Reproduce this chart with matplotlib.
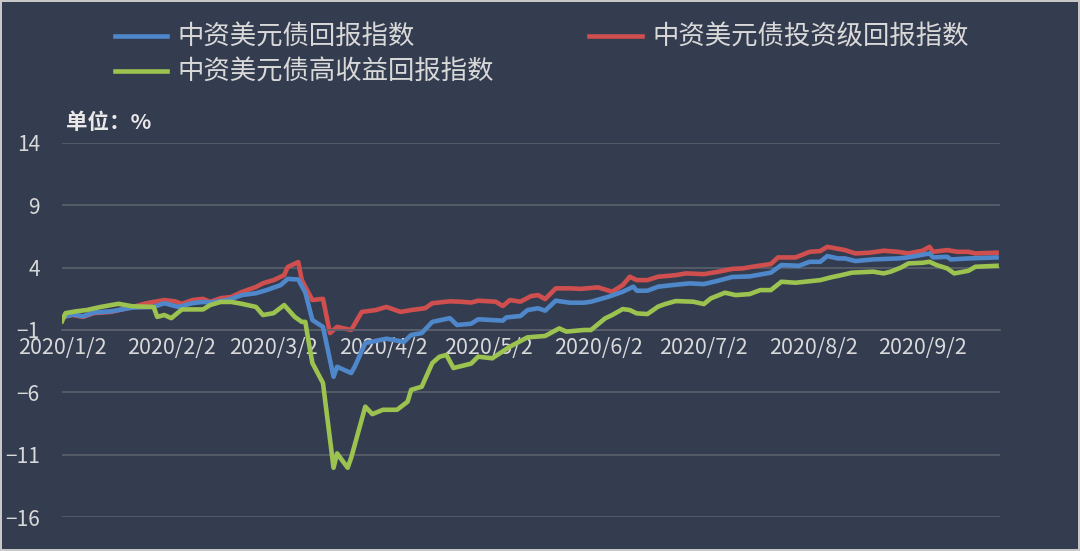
import pandas as pd
import matplotlib
matplotlib.use("Agg")
import matplotlib.pyplot as plt
import matplotlib.dates as mdates

plt.rcParams['font.family'] = ['Noto Sans CJK SC', 'DejaVu Sans']

# 中资美元债回报指数
blue_dates = ['2020-01-02', '2020-01-05', '2020-01-08', '2020-01-11', '2020-01-16', '2020-01-22',
              '2020-01-28', '2020-01-31', '2020-02-04', '2020-02-08', '2020-02-11', '2020-02-13',
              '2020-02-18', '2020-02-22', '2020-02-26', '2020-02-29', '2020-03-04', '2020-03-06',
              '2020-03-09', '2020-03-11', '2020-03-13', '2020-03-16', '2020-03-19', '2020-03-20',
              '2020-03-24', '2020-03-25', '2020-03-28', '2020-04-03', '2020-04-08', '2020-04-10',
              '2020-04-13', '2020-04-16', '2020-04-21', '2020-04-23', '2020-04-27', '2020-04-29',
              '2020-05-06', '2020-05-07', '2020-05-11', '2020-05-13', '2020-05-16', '2020-05-18',
              '2020-05-21', '2020-05-25', '2020-05-29', '2020-05-31', '2020-06-05', '2020-06-09',
              '2020-06-12', '2020-06-13', '2020-06-16', '2020-06-19', '2020-06-23', '2020-06-28',
              '2020-07-02', '2020-07-06', '2020-07-10', '2020-07-15', '2020-07-21', '2020-07-24',
              '2020-07-29', '2020-08-01', '2020-08-04', '2020-08-06', '2020-08-09', '2020-08-11',
              '2020-08-14', '2020-08-19', '2020-08-26', '2020-08-28', '2020-08-31', '2020-09-04',
              '2020-09-05', '2020-09-09', '2020-09-10', '2020-09-15', '2020-09-23']
blue_vals = [0.0, 0.25, 0.1, 0.4, 0.5, 0.8,
             0.85, 1.15, 0.85, 1.15, 1.25, 1.2,
             1.4, 1.8, 1.95, 2.2, 2.6, 3.1,
             3.05, 2.0, -0.2, -0.75, -4.75, -3.95,
             -4.45, -3.95, -2.05, -1.7, -1.95, -1.4,
             -1.25, -0.35, -0.05, -0.6, -0.5, -0.14,
             -0.25, 0.01, 0.12, 0.6, 0.74, 0.55,
             1.35, 1.19, 1.19, 1.27, 1.67, 2.07,
             2.47, 2.15, 2.15, 2.47, 2.6, 2.74,
             2.68, 2.95, 3.25, 3.3, 3.6, 4.21,
             4.15, 4.47, 4.47, 4.93, 4.74, 4.74,
             4.53, 4.66, 4.74, 4.79, 4.93, 5.14,
             4.82, 4.87, 4.66, 4.74, 4.82]

# 中资美元债投资级回报指数
red_dates = ['2020-01-02', '2020-01-05', '2020-01-08', '2020-01-11', '2020-01-16', '2020-01-22',
             '2020-01-26', '2020-01-31', '2020-02-03', '2020-02-05', '2020-02-08', '2020-02-11',
             '2020-02-13', '2020-02-16', '2020-02-19', '2020-02-22', '2020-02-26', '2020-02-28',
             '2020-03-02', '2020-03-05', '2020-03-06', '2020-03-09', '2020-03-10', '2020-03-13',
             '2020-03-16', '2020-03-18', '2020-03-20', '2020-03-24', '2020-03-27', '2020-03-31',
             '2020-04-03', '2020-04-07', '2020-04-10', '2020-04-14', '2020-04-16', '2020-04-21',
             '2020-04-24', '2020-04-27', '2020-04-29', '2020-05-04', '2020-05-06', '2020-05-08',
             '2020-05-11', '2020-05-14', '2020-05-16', '2020-05-18', '2020-05-21', '2020-05-25',
             '2020-05-28', '2020-06-02', '2020-06-06', '2020-06-09', '2020-06-11', '2020-06-13',
             '2020-06-16', '2020-06-19', '2020-06-24', '2020-06-27', '2020-07-02', '2020-07-06',
             '2020-07-10', '2020-07-13', '2020-07-17', '2020-07-21', '2020-07-23', '2020-07-28',
             '2020-08-01', '2020-08-04', '2020-08-06', '2020-08-07', '2020-08-11', '2020-08-14',
             '2020-08-18', '2020-08-22', '2020-08-26', '2020-08-29', '2020-09-02', '2020-09-04',
             '2020-09-05', '2020-09-09', '2020-09-12', '2020-09-15', '2020-09-17', '2020-09-23']
red_vals = [0.05, 0.2, 0.05, 0.35, 0.45, 0.85,
            1.15, 1.4, 1.3, 1.1, 1.4, 1.5,
            1.25, 1.55, 1.65, 2.05, 2.45, 2.75,
            3.0, 3.4, 4.05, 4.45, 3.0, 1.4,
            1.5, -1.25, -0.75, -1.0, 0.45, 0.6,
            0.85, 0.45, 0.6, 0.75, 1.15, 1.3,
            1.27, 1.2, 1.35, 1.27, 0.92, 1.4,
            1.27, 1.72, 1.8, 1.48, 2.34, 2.34,
            2.3, 2.42, 2.07, 2.6, 3.27, 3.0,
            3.0, 3.27, 3.4, 3.54, 3.48, 3.67,
            3.9, 3.94, 4.13, 4.29, 4.82, 4.82,
            5.27, 5.33, 5.67, 5.62, 5.41, 5.14,
            5.2, 5.36, 5.27, 5.14, 5.36, 5.67,
            5.27, 5.41, 5.27, 5.27, 5.14, 5.2]

# 中资美元债高收益回报指数
green_dates = ['2020-01-02', '2020-01-03', '2020-01-06', '2020-01-09', '2020-01-13', '2020-01-18',
               '2020-01-22', '2020-01-28', '2020-01-29', '2020-01-31', '2020-02-02', '2020-02-05',
               '2020-02-11', '2020-02-13', '2020-02-16', '2020-02-19', '2020-02-22', '2020-02-26',
               '2020-02-28', '2020-03-02', '2020-03-05', '2020-03-08', '2020-03-10', '2020-03-11',
               '2020-03-12', '2020-03-13', '2020-03-16', '2020-03-19', '2020-03-20', '2020-03-23',
               '2020-03-24', '2020-03-28', '2020-03-30', '2020-04-02', '2020-04-06', '2020-04-09',
               '2020-04-10', '2020-04-13', '2020-04-16', '2020-04-17', '2020-04-18', '2020-04-20',
               '2020-04-22', '2020-04-27', '2020-04-29', '2020-05-03', '2020-05-08', '2020-05-13',
               '2020-05-18', '2020-05-22', '2020-05-24', '2020-05-29', '2020-05-31', '2020-06-04',
               '2020-06-06', '2020-06-09', '2020-06-11', '2020-06-13', '2020-06-16', '2020-06-19',
               '2020-06-21', '2020-06-24', '2020-06-29', '2020-07-02', '2020-07-04', '2020-07-08',
               '2020-07-11', '2020-07-15', '2020-07-18', '2020-07-21', '2020-07-24', '2020-07-28',
               '2020-08-04', '2020-08-07', '2020-08-10', '2020-08-13', '2020-08-19', '2020-08-22',
               '2020-08-24', '2020-08-27', '2020-08-29', '2020-09-02', '2020-09-04', '2020-09-06',
               '2020-09-09', '2020-09-11', '2020-09-15', '2020-09-17', '2020-09-23']
green_vals = [-0.3, 0.35, 0.5, 0.6, 0.85, 1.1,
              0.9, 0.85, 0.05, 0.2, -0.05, 0.65,
              0.65, 1.0, 1.25, 1.25, 1.1, 0.85,
              0.2, 0.35, 1.0, 0.05, -0.35, -0.35,
              -2.05, -3.65, -5.25, -12.05, -10.9, -12.05,
              -11.25, -7.15, -7.75, -7.4, -7.4, -6.75,
              -5.8, -5.55, -3.65, -3.4, -3.15, -3.0,
              -4.05, -3.7, -3.14, -3.27, -2.34, -1.59,
              -1.48, -0.87, -1.13, -1.0, -1.0, -0.07,
              0.2, 0.68, 0.6, 0.33, 0.28, 0.87,
              1.08, 1.32, 1.27, 1.08, 1.54, 1.99,
              1.8, 1.88, 2.2, 2.2, 2.87, 2.79,
              3.0, 3.22, 3.4, 3.6, 3.68, 3.54,
              3.68, 4.02, 4.34, 4.39, 4.47, 4.21,
              3.94, 3.54, 3.75, 4.07, 4.15]

tick_dates = ['2020-01-02', '2020-02-02', '2020-03-02', '2020-04-02', '2020-05-02',
              '2020-06-02', '2020-07-02', '2020-08-02', '2020-09-02']
y_ticks = [14, 9, 4, -1, -6, -11, -16]

bg = '#343c4f'
txt = '#d9d9d9'
grid_c = '#5b606b'

fig = plt.figure(figsize=(10.8, 5.51), dpi=100, facecolor=bg,
                 edgecolor='#c8c8c8', linewidth=1.5)
ax = fig.add_axes([0.0574, 0.0617, 0.8686, 0.6788])
ax.set_facecolor(bg)

l_blue, = ax.plot(pd.to_datetime(blue_dates), blue_vals, color='#4f87cb', lw=3.3,
                  label='中资美元债回报指数', zorder=3)
l_red, = ax.plot(pd.to_datetime(red_dates), red_vals, color='#cf4f4f', lw=3.3,
                 label='中资美元债投资级回报指数', zorder=2)
l_green, = ax.plot(pd.to_datetime(green_dates), green_vals, color='#9cc24f', lw=3.3,
                   label='中资美元债高收益回报指数', zorder=4)

ax.set_ylim(-16, 14)
ax.set_yticks(y_ticks)
ax.set_xlim(pd.Timestamp('2020-01-02'), pd.Timestamp('2020-09-24'))
ax.set_xticks(pd.to_datetime(tick_dates))
ax.xaxis.set_major_formatter(mdates.DateFormatter('%Y/%-m/%-d'))

ax.grid(axis='y', color=grid_c, lw=1.2)
for s in ['top', 'right', 'left']:
    ax.spines[s].set_visible(False)
ax.spines['bottom'].set_position(('data', -1))
ax.spines['bottom'].set_color(grid_c)
ax.spines['bottom'].set_linewidth(1.2)
ax.tick_params(axis='x', length=0, pad=5, labelsize=15.5, labelcolor=txt)
ax.tick_params(axis='y', length=0, pad=16, labelsize=15, labelcolor=txt)

leg = fig.legend(handles=[l_blue, l_green, l_red], ncol=2, loc='upper left',
                 bbox_to_anchor=(0.089, 0.99), frameon=False, fontsize=19,
                 handlelength=2.0, handletextpad=0.4, columnspacing=3.6,
                 labelspacing=0.3, borderaxespad=0.3)
for t in leg.get_texts():
    t.set_color(txt)

fig.text(0.061, 0.777, '单位：%', color='#e8e8e8', fontsize=15.5, fontweight='bold',
         ha='left', va='center')

fig.savefig('out.png', dpi=100, facecolor=bg, edgecolor=fig.get_edgecolor())
